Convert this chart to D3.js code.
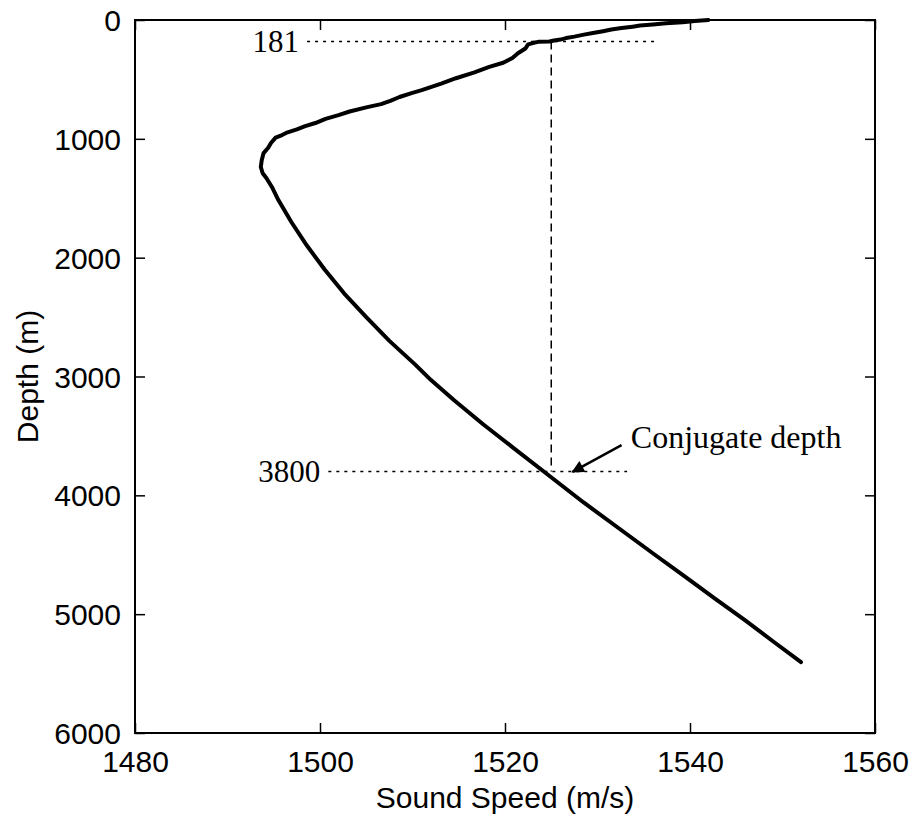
<!DOCTYPE html>
<html><head><meta charset="utf-8">
<script src="https://cdn.jsdelivr.net/npm/d3@7"></script>
<style>
html,body{margin:0;padding:0;background:#fff;}
svg{display:block;}
</style></head>
<body>
<svg id="chart" width="916" height="818"></svg>
<script>
// ---- data ----
const speed = [1542, 1540.5, 1539.2, 1537.4, 1536, 1534.6, 1533.8, 1532.6, 1531.5, 1530.6, 1529.5, 1528.4, 1527.5, 1526.6, 1526, 1525.3, 1524.8, 1523.6, 1523.1, 1522.5, 1522.2, 1521.4, 1520.8, 1519.8, 1518.3, 1516.7, 1514.7, 1513.1, 1511.0, 1509.9, 1508.6, 1507.6, 1506.6, 1505.0, 1503.2, 1502.0, 1500.6, 1499.5, 1498.4, 1497.5, 1496.5, 1495.9, 1495.2, 1494.7, 1494.4, 1493.9, 1493.7, 1493.6, 1493.8, 1494.2, 1494.8, 1495.5, 1496.9, 1498.6, 1500.5, 1502.6, 1505.0, 1507.5, 1510.3, 1512.0, 1514.5, 1517.6, 1520.9, 1524.4, 1528.5, 1533.0, 1536.2, 1539.5, 1542.7, 1545.9, 1549.0, 1552.0];
const depth = [0, 8, 18, 28, 38, 47, 56, 68, 80, 94, 110, 125, 140, 152, 165, 172, 181, 184, 192, 205, 240, 280, 320, 360, 395, 440, 490, 535, 590, 615, 648, 680, 708, 735, 770, 800, 832, 867, 893, 920, 945, 968, 990, 1035, 1075, 1120, 1180, 1237, 1290, 1330, 1405, 1515, 1700, 1900, 2100, 2300, 2500, 2700, 2900, 3030, 3200, 3400, 3600, 3812, 4060, 4317, 4500, 4687, 4870, 5049, 5230, 5403];
const xTicks = [1480, 1500, 1520, 1540, 1560];
const yTicks = [0, 1000, 2000, 3000, 4000, 5000, 6000];
const refDepths = [181, 3800];
const refLabels = ["181", "3800"];
const refSpeedStart = [1498.6, 1500.9];
const refSpeedEnd = [1536.6, 1533.2];
const conjSpeed = 1525;
const annotText = "Conjugate depth";
const annotPos = [1533.6, 3602];
const arrowFrom = [1532.6, 3577];
const arrowTo = [1527.3, 3803];

// ---- layout ----
const svg = d3.select("#chart");
const L = 135, R = 875, T = 20, B = 733;
const x = d3.scaleLinear().domain([1480, 1560]).range([L, R]);
const y = d3.scaleLinear().domain([0, 6000]).range([T, B]);
const tickFont = "'Liberation Sans', Arial, sans-serif";
const serif = "'Liberation Serif', 'Times New Roman', serif";

// frame
svg.append("rect").attr("x", L).attr("y", T).attr("width", R - L).attr("height", B - T)
  .attr("fill", "none").attr("stroke", "#000").attr("stroke-width", 2);

// axes (ticks inward)
const axB = svg.append("g").attr("transform", `translate(0,${B})`)
  .call(d3.axisBottom(x).tickValues(xTicks).tickSize(-10).tickPadding(18).tickFormat(d3.format("d")));
const axT = svg.append("g").attr("transform", `translate(0,${T})`)
  .call(d3.axisTop(x).tickValues(xTicks).tickSize(-10).tickFormat(""));
const axL = svg.append("g").attr("transform", `translate(${L},0)`)
  .call(d3.axisLeft(y).tickValues(yTicks).tickSize(-10).tickPadding(14).tickFormat(d3.format("d")));
const axR = svg.append("g").attr("transform", `translate(${R},0)`)
  .call(d3.axisRight(y).tickValues(yTicks).tickSize(-10).tickFormat(""));
[axB, axT, axL, axR].forEach(a => {
  a.select(".domain").remove();
  a.selectAll(".tick line").attr("stroke", "#000").attr("stroke-width", 1.5);
  a.selectAll("text").attr("font-family", tickFont).attr("font-size", 30).attr("fill", "#000");
});
axB.selectAll("text").attr("dy", "0.71em");
axL.selectAll("text").attr("dy", "0.35em");

// axis titles
svg.append("text").attr("x", (L + R) / 2).attr("y", 808).attr("text-anchor", "middle")
  .attr("font-family", tickFont).attr("font-size", 30).text("Sound Speed (m/s)");
svg.append("text").attr("transform", `translate(38,${(T + B) / 2}) rotate(-90)`).attr("text-anchor", "middle")
  .attr("font-family", tickFont).attr("font-size", 30).text("Depth (m)");

// reference lines
refDepths.forEach((d, i) => {
  svg.append("line").attr("x1", x(refSpeedStart[i])).attr("x2", x(refSpeedEnd[i]))
    .attr("y1", y(d)).attr("y2", y(d)).attr("stroke", "#000").attr("stroke-width", 1.5)
    .attr("stroke-dasharray", "3,5");
  svg.append("text").attr("x", x(refSpeedStart[i]) - 8).attr("y", y(d)).attr("dy", "0.35em")
    .attr("text-anchor", "end").attr("font-family", serif).attr("font-size", 31).text(refLabels[i]);
});
svg.append("line").attr("x1", x(conjSpeed)).attr("x2", x(conjSpeed))
  .attr("y1", y(refDepths[0])).attr("y2", y(refDepths[1])).attr("stroke", "#000")
  .attr("stroke-width", 1.5).attr("stroke-dasharray", "8,5");

// profile
const pts = speed.map((s, i) => [s, depth[i]]);
svg.append("path").datum(pts)
  .attr("d", d3.line().x(d => x(d[0])).y(d => y(d[1])))
  .attr("fill", "none").attr("stroke", "#000").attr("stroke-width", 4)
  .attr("stroke-linejoin", "round").attr("stroke-linecap", "round");

// annotation
svg.append("defs").append("marker").attr("id", "ah").attr("viewBox", "0 0 10 10")
  .attr("refX", 9).attr("refY", 5).attr("markerWidth", 7).attr("markerHeight", 5)
  .attr("orient", "auto").attr("markerUnits", "strokeWidth")
  .append("path").attr("d", "M0,0L10,5L0,10z").attr("fill", "#000");
svg.append("line").attr("x1", x(arrowFrom[0])).attr("y1", y(arrowFrom[1]))
  .attr("x2", x(arrowTo[0])).attr("y2", y(arrowTo[1]))
  .attr("stroke", "#000").attr("stroke-width", 2.5).attr("marker-end", "url(#ah)");
svg.append("text").attr("x", x(annotPos[0])).attr("y", y(annotPos[1]))
  .attr("font-family", serif).attr("font-size", 32).text(annotText);
</script>
</body></html>
